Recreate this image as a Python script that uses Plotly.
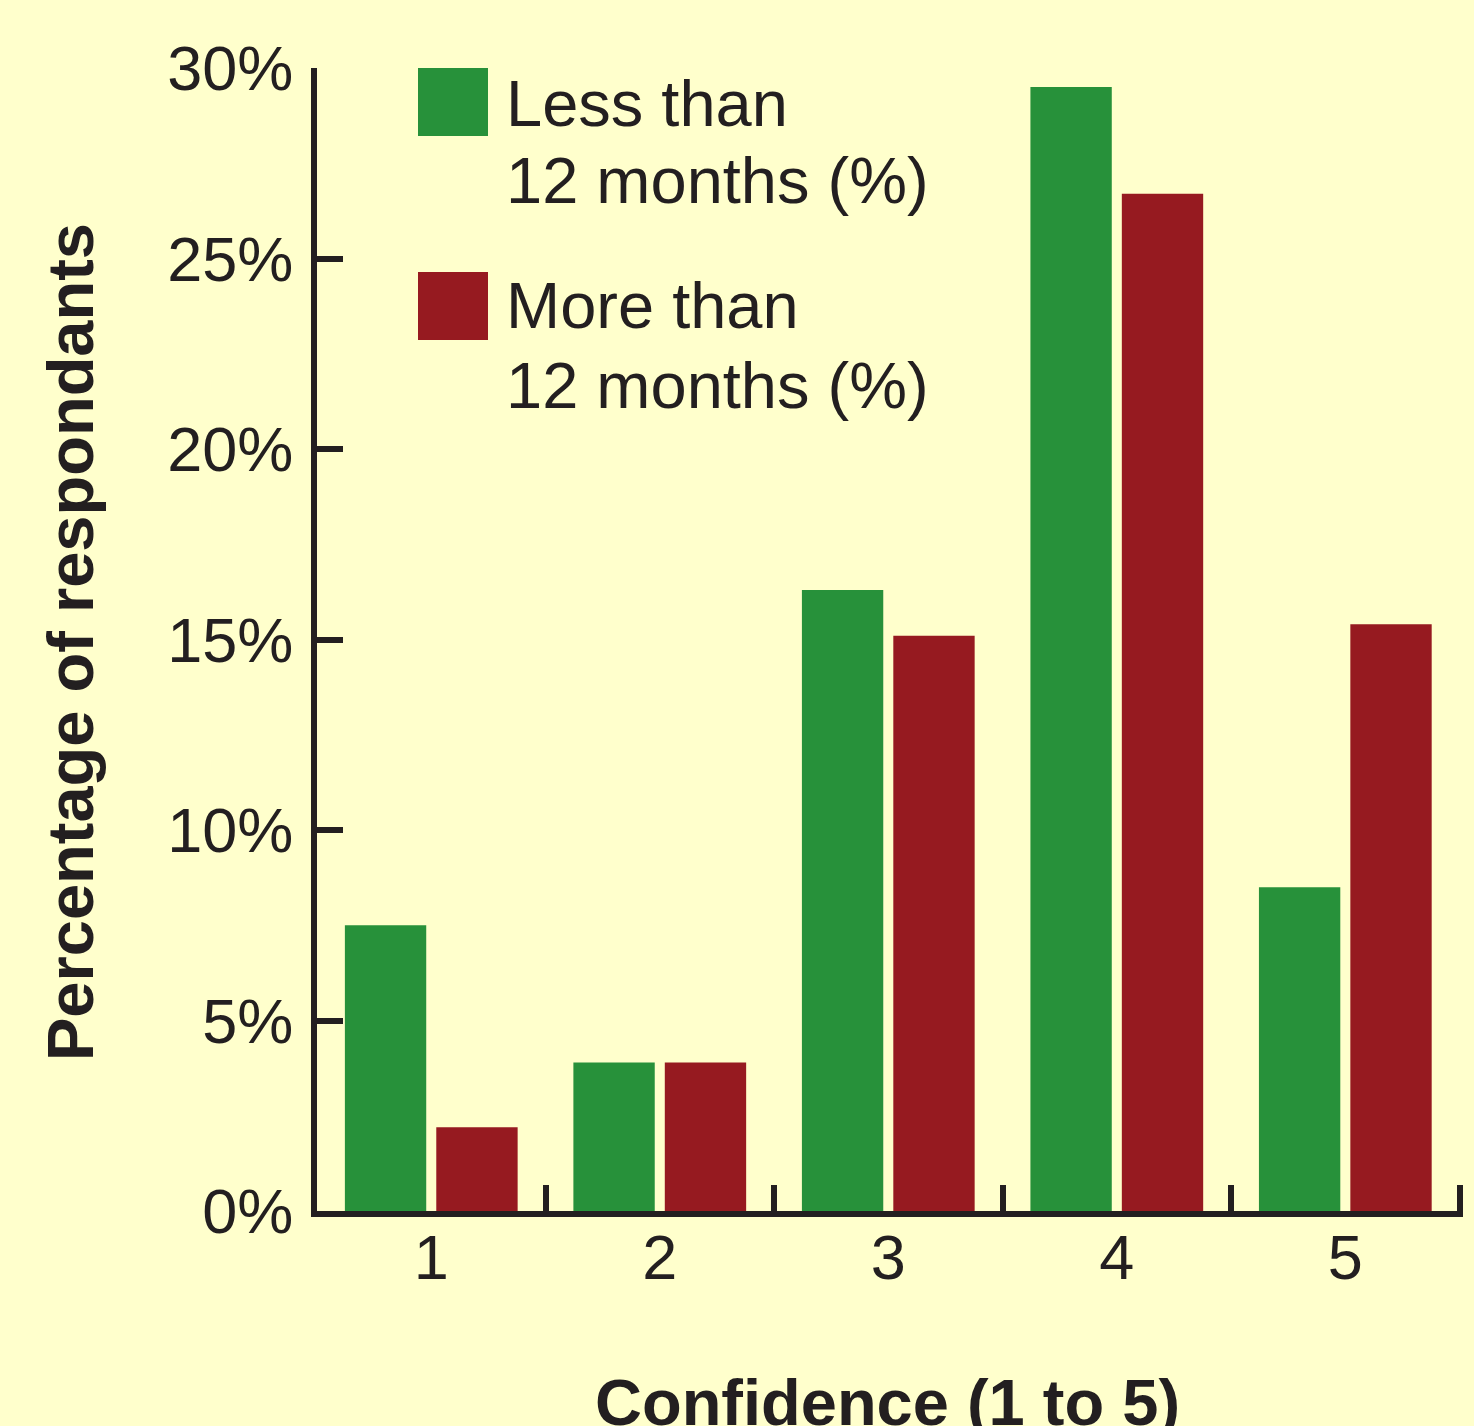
import plotly.graph_objects as go

# ---- data ----
categories = ["1", "2", "3", "4", "5"]
less_than_12 = [7.5, 3.9, 16.3, 29.5, 8.5]
more_than_12 = [2.2, 3.9, 15.1, 26.7, 15.4]
series_lines = [["Less than", "12 months (%)"], ["More than", "12 months (%)"]]
y_tick_vals = [0, 5, 10, 15, 20, 25, 30]
y_tick_text = ["0%", "5%", "10%", "15%", "20%", "25%", "30%"]
x_title = "Confidence (1 to 5)"
y_title = "Percentage of respondants"

# ---- style ----
GREEN = "#27913A"
RED = "#961A20"
BG = "#FFFFCC"
INK = "#231F20"
FONT = "Liberation Sans, Arial, sans-serif"
FS = 63

fig = go.Figure()
fig.add_trace(go.Bar(x=categories, y=less_than_12, name=" ".join(series_lines[0]),
                     marker=dict(color=GREEN, line=dict(width=0)), showlegend=False))
fig.add_trace(go.Bar(x=categories, y=more_than_12, name=" ".join(series_lines[1]),
                     marker=dict(color=RED, line=dict(width=0)), showlegend=False))

W, H = 1474, 1426
L, R, T, B = 317, 11, 68, 215
pw, ph = W - L - R, H - T - B

def px(xp):
    return (xp - L) / pw

def py(yp):
    return (H - B - yp) / ph

fig.update_layout(
    width=W, height=H,
    margin=dict(l=L, r=R, t=T, b=B),
    paper_bgcolor=BG, plot_bgcolor=BG,
    barmode="group", bargap=0.2, bargroupgap=0.11,
    font=dict(family=FONT, size=FS, color=INK),
    xaxis=dict(type="category", range=[-0.5, 4.515], tickson="boundaries",
               ticks="inside", ticklen=26, tickwidth=6, tickcolor=INK,
               showline=True, linewidth=6, linecolor=INK, showgrid=False,
               zeroline=False, tickfont=dict(size=FS, color=INK),
               ticklabelstandoff=-14),
    yaxis=dict(range=[0, 30], tickvals=y_tick_vals, ticktext=y_tick_text,
               ticks="inside", ticklen=26, tickwidth=6, tickcolor=INK,
               showline=True, linewidth=6, linecolor=INK, showgrid=False,
               zeroline=False, tickfont=dict(size=FS, color=INK),
               ticklabelstandoff=5),
)

# legend drawn manually (large swatches)
colors = [GREEN, RED]
sw_top = [68, 272]
text_mid = [[103.5, 180], [306, 385]]
for i, c in enumerate(colors):
    fig.add_shape(type="rect", xref="paper", yref="paper",
                  x0=px(418), x1=px(488), y0=py(sw_top[i] + 68), y1=py(sw_top[i]),
                  fillcolor=c, line=dict(width=0))
    for j, line in enumerate(series_lines[i]):
        fig.add_annotation(xref="paper", yref="paper", x=px(504), y=py(text_mid[i][j]),
                           xanchor="left", yanchor="middle", text=line, showarrow=False,
                           font=dict(size=65, color=INK, family=FONT))

# axis titles
fig.add_annotation(xref="paper", yref="paper", x=px(71), y=py(642), textangle=-90,
                   xanchor="center", yanchor="middle", showarrow=False,
                   text="<b>" + y_title + "</b>", font=dict(size=65, color=INK, family=FONT))
fig.add_annotation(xref="paper", yref="paper", x=px(887), y=py(1364),
                   xanchor="center", yanchor="top", showarrow=False,
                   text="<b>" + x_title + "</b>", font=dict(size=65, color=INK, family=FONT))

fig.write_html("out.html", config={"displayModeBar": False},
               post_script="document.body.style.margin='0';")
